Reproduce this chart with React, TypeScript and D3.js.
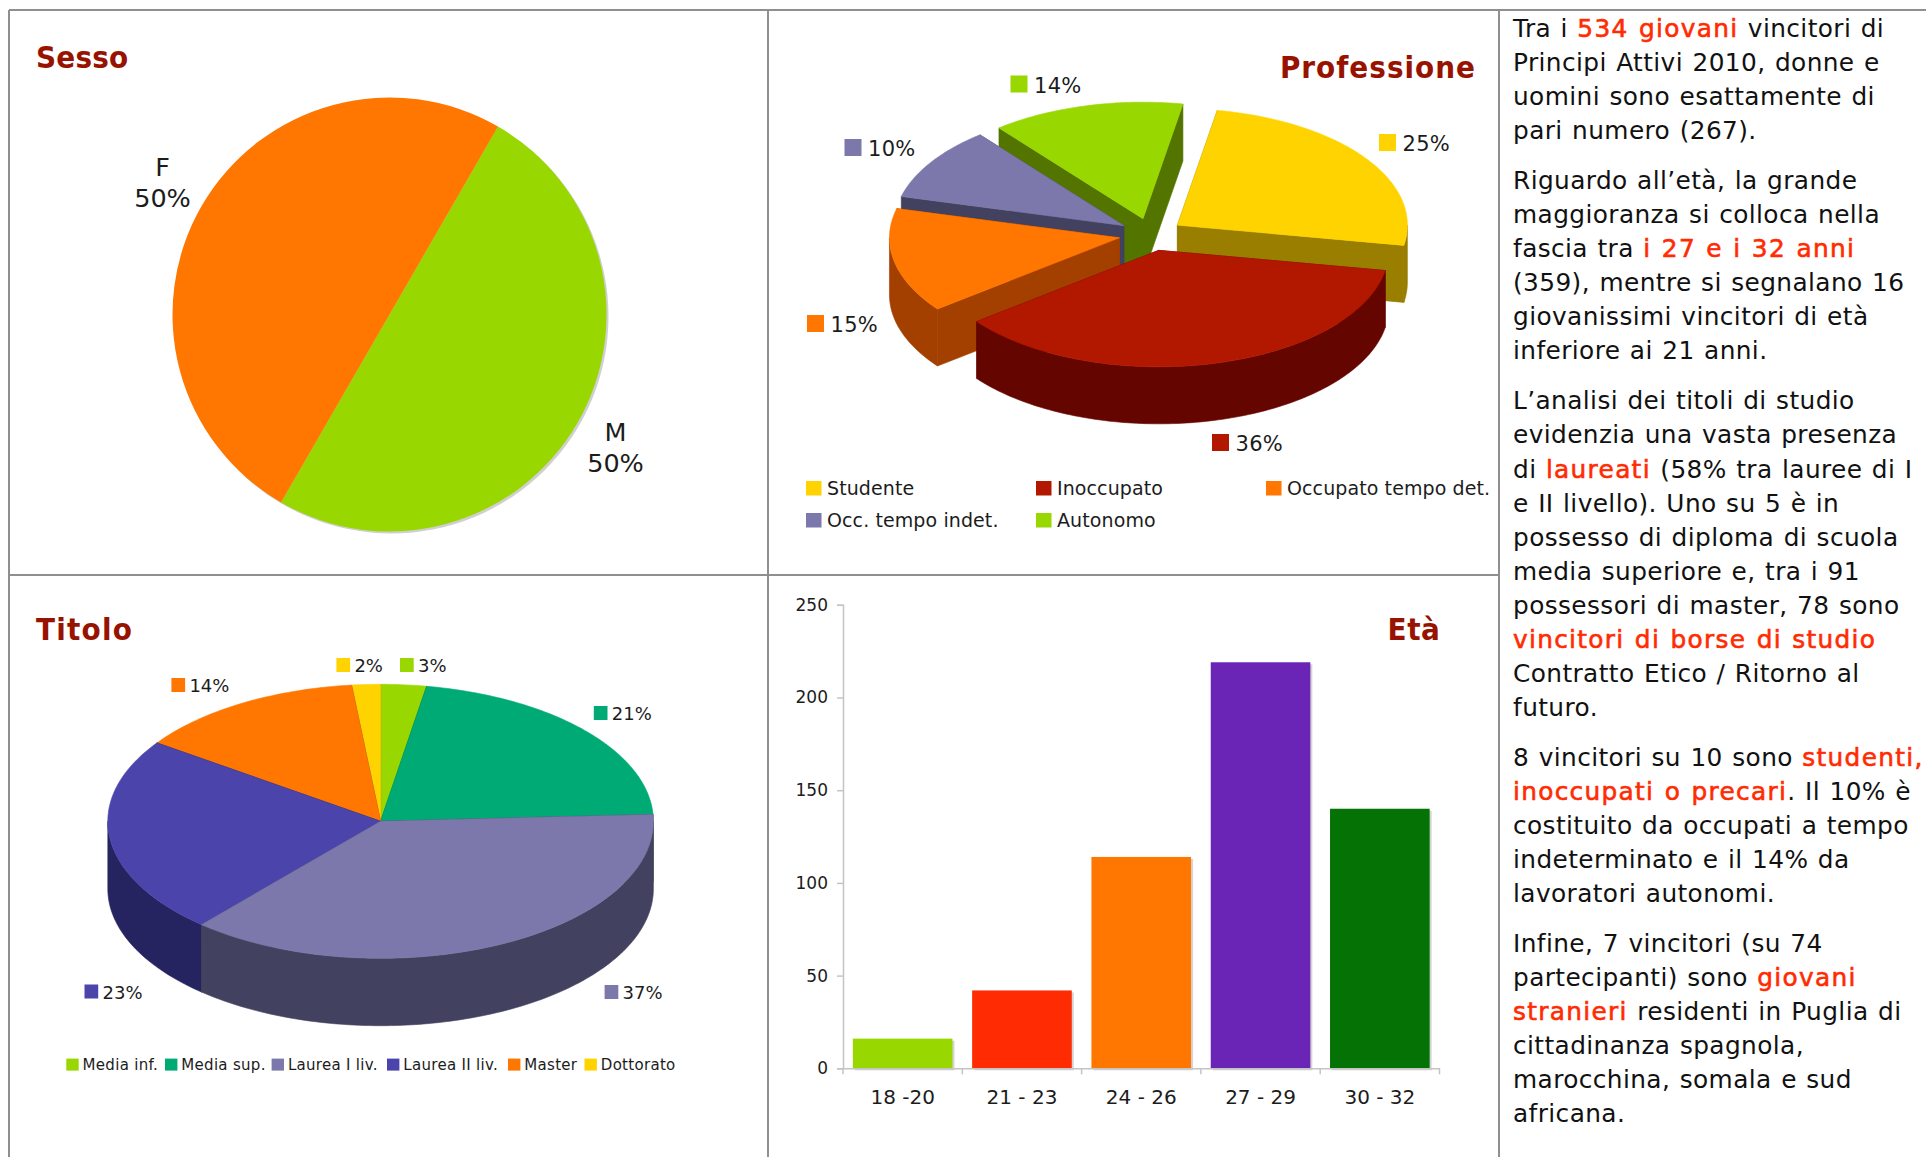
import * as d3 from "d3";
import React, { useEffect, useRef } from "react";

const width = 1926;
const height = 1157;
const font = "'DejaVu Sans', sans-serif";
const titleFont = "'DejaVu Sans Condensed', 'DejaVu Sans', sans-serif";
const titleColor = "#981200";
const textColor = "#1c1c1c";

const green = "#99d700";
const orange = "#ff7700";
const yellow = "#ffd300";
const lilac = "#7c78ab";

// Sesso
const sessoLabels = ["M", "F"];
const sessoValues = [267, 267];
const sessoPercent = ["50%", "50%"];

// Professione
const profLabels = ["Studente", "Inoccupato", "Occupato tempo det.", "Occ. tempo indet.", "Autonomo"];
const profValues = [25, 36.75, 14.5, 10.2, 13.55];
const profPercent = ["25%", "36%", "15%", "10%", "14%"];
const profColors = [yellow, "#b21800", orange, lilac, green];
const profSides = ["#997e00", "#640500", "#a34000", "#42415f", "#537500"];

// Titolo
const titoloLabels = ["Media inf.", "Media sup.", "Laurea I liv.", "Laurea II liv.", "Master", "Dottorato"];
const titoloValues = [2.7, 21.5, 37.2, 23.3, 13.6, 1.7];
const titoloPercent = ["3%", "21%", "37%", "23%", "14%", "2%"];
const titoloColors = [green, "#00aa75", lilac, "#4b44ab", orange, yellow];
const titoloSides = ["#5c8100", "#006646", "#42415f", "#252360", "#994700", "#997e00"];

// Eta
const etaLabels = ["18 -20", "21 - 23", "24 - 26", "27 - 29", "30 - 32"];
const etaValues = [16, 42, 114, 219, 140];
const etaColors = [green, "#ff2b02", orange, "#6a24b6", "#047204"];
const etaTicks = [0, 50, 100, 150, 200, 250];

// *...* marks the red words
const paragraphs = [
  [
    "Tra i *534 giovani* vincitori di",
    "Principi Attivi 2010, donne e",
    "uomini sono esattamente di",
    "pari numero (267).",
  ],
  [
    "Riguardo all’età, la grande",
    "maggioranza si colloca nella",
    "fascia tra *i 27 e i 32 anni*",
    "(359), mentre si segnalano 16",
    "giovanissimi vincitori di età",
    "inferiore ai 21 anni.",
  ],
  [
    "L’analisi dei titoli di studio",
    "evidenzia una vasta presenza",
    "di *laureati* (58% tra lauree di I",
    "e II livello). Uno su 5 è in",
    "possesso di diploma di scuola",
    "media superiore e, tra i 91",
    "possessori di master, 78 sono",
    "*vincitori di borse di studio*",
    "Contratto Etico / Ritorno al",
    "futuro.",
  ],
  [
    "8 vincitori su 10 sono *studenti,*",
    "*inoccupati o precari*. Il 10% è",
    "costituito da occupati a tempo",
    "indeterminato e il 14% da",
    "lavoratori autonomi.",
  ],
  [
    "Infine, 7 vincitori (su 74",
    "partecipanti) sono *giovani*",
    "*stranieri* residenti in Puglia di",
    "cittadinanza spagnola,",
    "marocchina, somala e sud",
    "africana.",
  ],
];

const rad = (deg) => (deg * Math.PI) / 180;

const addText = (g, x, y, text, size, opts: any = {}) =>
  g
    .append("text")
    .attr("x", x)
    .attr("y", y)
    .attr("font-family", opts.family || font)
    .attr("font-size", size)
    .attr("font-weight", opts.weight || "normal")
    .attr("text-anchor", opts.anchor || "start")
    .attr("dominant-baseline", opts.baseline || "auto")
    .attr("letter-spacing", opts.spacing || 0)
    .attr("fill", opts.fill || textColor)
    .text(text);

const addTitle = (g, x, y, text, anchor, spacing) =>
  addText(g, x, y, text, 31, {
    family: titleFont,
    weight: "bold",
    fill: titleColor,
    anchor,
    spacing,
  });

const addSwatch = (g, x, y, w, h, color) =>
  g.append("rect").attr("x", x).attr("y", y).attr("width", w).attr("height", h).attr("fill", color);

// pie drawn as a slanted disc: top faces, radial faces and the outer wall
const drawPie3D = (g, { values, colors, sides, cx, cy, rx, ry, depth, startDeg, explode, order }) => {
  const pie = d3
    .pie()
    .sort(null)
    .startAngle(rad(startDeg))
    .endAngle(rad(startDeg + 360));
  const arcs = pie(values);
  const line = d3
    .line()
    .x((d) => d[0])
    .y((d) => d[1]);

  order.forEach((i) => {
    const a = arcs[i];
    const mid = (a.startAngle + a.endAngle) / 2;
    const ox = cx + explode * rx * Math.sin(mid);
    const oy = cy - explode * ry * Math.cos(mid);
    const rim = (t, dy = 0) => [ox + rx * Math.sin(t), oy - ry * Math.cos(t) + dy];
    const steps = (from, to) => {
      const n = Math.max(2, Math.ceil((to - from) / 0.02));
      return d3.range(n + 1).map((k) => from + ((to - from) * k) / n);
    };
    const drawFace = (pts, fill) =>
      g
        .append("path")
        .attr("d", line(pts) + "Z")
        .attr("fill", fill)
        .attr("stroke", fill)
        .attr("stroke-width", 0.6);

    [a.startAngle, a.endAngle].forEach((t) => {
      drawFace([[ox, oy], rim(t), rim(t, depth), [ox, oy + depth]], sides[i]);
    });

    // only the part of the rim facing the viewer has a wall
    [0, 2 * Math.PI].forEach((turn) => {
      const from = Math.max(a.startAngle, Math.PI / 2 + turn);
      const to = Math.min(a.endAngle, (3 * Math.PI) / 2 + turn);
      if (to > from) {
        const ts = steps(from, to);
        drawFace([...ts.map((t) => rim(t)), ...ts.reverse().map((t) => rim(t, depth))], sides[i]);
      }
    });

    drawFace([[ox, oy], ...steps(a.startAngle, a.endAngle).map((t) => rim(t))], colors[i]);
  });
};

const drawFrame = (g) => {
  const frame = [
    [9, 10, 1926, 10],
    [9, 575, 1499, 575],
    [9, 10, 9, height],
    [768, 10, 768, height],
    [1499, 10, 1499, height],
  ];
  frame.forEach(([x1, y1, x2, y2]) => {
    g.append("line")
      .attr("x1", x1)
      .attr("y1", y1)
      .attr("x2", x2)
      .attr("y2", y2)
      .attr("stroke", "#8f8f8f")
      .attr("stroke-width", 2);
  });
};

const drawSesso = (g) => {
  addTitle(g, 36, 68, "Sesso", "start", 0.2);
  const cx = 389.5;
  const cy = 314.5;
  const r = 217;
  g.append("circle").attr("cx", cx + 2).attr("cy", cy + 2).attr("r", r).attr("fill", "#cfcfcf");
  const pie = d3
    .pie()
    .sort(null)
    .startAngle(rad(30))
    .endAngle(rad(390));
  const arc = d3.arc().innerRadius(0).outerRadius(r);
  const colors = [green, orange];
  const labelPos = [
    [615.5, 432],
    [162.5, 167],
  ];
  pie(sessoValues).forEach((d, i) => {
    g.append("path")
      .attr("transform", `translate(${cx},${cy})`)
      .attr("d", arc(d))
      .attr("fill", colors[i]);
    const [lx, ly] = labelPos[i];
    addText(g, lx, ly, sessoLabels[i], 25.5, { anchor: "middle", baseline: "central" });
    addText(g, lx, ly + 31, sessoPercent[i], 25.5, { anchor: "middle", baseline: "central" });
  });
};

const drawProfessione = (g) => {
  addTitle(g, 1476, 78, "Professione", "end", 1);
  drawPie3D(g, {
    values: profValues,
    colors: profColors,
    sides: profSides,
    cx: 1151,
    cy: 234.5,
    rx: 230,
    ry: 116.5,
    depth: 57,
    startDeg: 10,
    explode: 0.14,
    order: [4, 3, 0, 2, 1],
  });
  const callouts = [
    [1379, 134],
    [1212, 434],
    [807, 315],
    [844.5, 139],
    [1010.5, 75.5],
  ];
  callouts.forEach(([x, y], i) => {
    addSwatch(g, x, y, 17, 17, profColors[i]);
    addText(g, x + 23.5, y + 10, profPercent[i], 21, { baseline: "central", spacing: 0.3 });
  });
  const legend = [
    [806, 488],
    [1036, 488],
    [1266, 488],
    [806, 520],
    [1036, 520],
  ];
  legend.forEach(([x, y], i) => {
    addSwatch(g, x, y - 7, 15.5, 14.5, profColors[i]);
    addText(g, x + 21, y, profLabels[i], 19, { baseline: "central", spacing: 0.1 });
  });
};

const drawTitolo = (g) => {
  addTitle(g, 36, 640, "Titolo", "start", 1.2);
  drawPie3D(g, {
    values: titoloValues,
    colors: titoloColors,
    sides: titoloSides,
    cx: 380.6,
    cy: 821.3,
    rx: 272.8,
    ry: 137,
    depth: 67.4,
    startDeg: 0,
    explode: 0,
    order: [0, 1, 5, 4, 3, 2],
  });
  const callouts = [
    [400, 658],
    [593.8, 706],
    [604.6, 985],
    [84.5, 984.5],
    [171.4, 678],
    [336.4, 658],
  ];
  callouts.forEach(([x, y], i) => {
    addSwatch(g, x, y, 13.7, 14, titoloColors[i]);
    addText(g, x + 18, y + 7.5, titoloPercent[i], 18, { baseline: "central" });
  });
  const legendX = [66.3, 165, 271.6, 387, 508, 584.5];
  legendX.forEach((x, i) => {
    addSwatch(g, x, 1058.6, 12.4, 12, titoloColors[i]);
    addText(g, x + 16.3, 1065.3, titoloLabels[i], 15, { baseline: "central", spacing: 0.3 });
  });
};

const drawEta = (g) => {
  const x = d3.scaleBand().domain(etaLabels).range([843, 1439.5]).paddingInner(0.165).paddingOuter(0.0825);
  const y = d3.scaleLinear().domain([0, 250]).range([1068.3, 604.8]);

  etaLabels.forEach((label, i) => {
    g.append("rect")
      .attr("x", x(label) + 2)
      .attr("y", y(etaValues[i]) + 2)
      .attr("width", x.bandwidth())
      .attr("height", y(0) - y(etaValues[i]))
      .attr("fill", "#d4d4d4");
    g.append("rect")
      .attr("x", x(label))
      .attr("y", y(etaValues[i]))
      .attr("width", x.bandwidth())
      .attr("height", y(0) - y(etaValues[i]))
      .attr("fill", etaColors[i]);
  });

  const yAxis = g
    .append("g")
    .attr("transform", "translate(843,0)")
    .call(d3.axisLeft(y).tickValues(etaTicks).tickSize(6).tickPadding(9));
  const xAxis = g
    .append("g")
    .attr("transform", `translate(0,${y(0)})`)
    .call(d3.axisBottom(x).tickSize(0).tickPadding(22));

  // category ticks sit on the band edges, not the band centres
  const step = x.step();
  d3.range(etaLabels.length + 1).forEach((i) => {
    xAxis
      .append("line")
      .attr("x1", 843 + i * step)
      .attr("x2", 843 + i * step)
      .attr("y1", 0)
      .attr("y2", 6);
  });

  [yAxis, xAxis].forEach((axis) => {
    axis.selectAll("path, line").attr("stroke", "#c4c4c4").attr("stroke-width", 1.5);
    axis.selectAll("text").attr("font-family", font).attr("fill", textColor);
  });
  yAxis.selectAll("text").attr("font-size", 17);
  xAxis.selectAll("text").attr("font-size", 20);

  addTitle(g, 1440.5, 640, "Età", "end", 0.6);
};

const drawBody = (g) => {
  const lineStep = 34.05;
  const paraGap = 50;
  let baseline = 37;
  paragraphs.forEach((lines) => {
    lines.forEach((line) => {
      const text = g
        .append("text")
        .attr("x", 1513)
        .attr("y", baseline)
        .attr("font-family", font)
        .attr("font-size", 24.8)
        .attr("letter-spacing", 0.4)
        .attr("word-spacing", 1.2)
        .attr("fill", "#111");
      line.split("*").forEach((part, k) => {
        if (!part) return;
        const span = text.append("tspan").text(part);
        if (k % 2 === 1) {
          span
            .attr("fill", "#ff2b02")
            .attr("stroke", "#ff2b02")
            .attr("stroke-width", 0.6)
            .attr("letter-spacing", 1.3);
        }
      });
      baseline += lineStep;
    });
    baseline += paraGap - lineStep;
  });
};

const App = () => {
  const svgRef = useRef(null);

  useEffect(() => {
    const svg = d3.select(svgRef.current);
    svg.selectAll("*").remove();
    svg.append("rect").attr("width", width).attr("height", height).attr("fill", "#fff");
    drawSesso(svg.append("g"));
    drawProfessione(svg.append("g"));
    drawTitolo(svg.append("g"));
    drawEta(svg.append("g"));
    drawBody(svg.append("g"));
    drawFrame(svg.append("g"));
  }, []);

  return (
    <svg
      ref={svgRef}
      width={width}
      height={height}
      style={{ position: "absolute", left: 0, top: 0, display: "block" }}
    />
  );
};

export default App;
